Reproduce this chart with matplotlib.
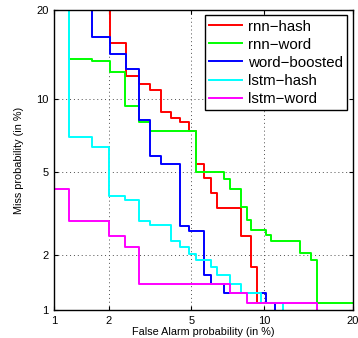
import math
import numpy as np
import matplotlib
matplotlib.use("Agg")
import matplotlib.pyplot as plt

plt.rcParams['font.family'] = ['Liberation Sans', 'DejaVu Sans']

# DET operating points, false alarm (%) / miss (%), drawn as steps
rnn_hash_fa = [2.03, 2.46, 2.86, 3.23, 3.63, 4.06, 4.44, 4.87, 5.27, 5.67, 6.10, 6.49, 8.14, 8.89, 9.37, 9.9]
rnn_hash_miss = [30, 15.72, 12.12, 11.34, 10.76, 8.92, 8.45, 8.11, 7.50, 5.42, 4.71, 4.05, 3.43, 2.50, 1.72, 1.10]

rnn_word_fa = [1.22, 1.62, 2.03, 2.43, 2.83, 3.23, 5.27, 6.90, 7.31, 8.14, 8.56, 8.89, 10.14, 10.60, 13.44, 14.63, 15.41, 22]
rnn_word_miss = [30, 13.90, 13.71, 12.50, 9.37, 8.12, 7.52, 5.02, 4.68, 4.21, 3.45, 3.00, 2.67, 2.52, 2.36, 2.04, 1.88, 1.10]

word_boosted_fa = [1.63, 2.03, 2.46, 2.86, 3.23, 3.63, 4.46, 4.87, 5.67, 6.10, 6.90, 10.18, 11.00, 11.00]
word_boosted_miss = [30, 16.45, 14.49, 12.81, 8.30, 5.86, 5.44, 2.81, 2.66, 1.56, 1.40, 1.25, 1.10, 0.9]

lstm_hash_fa = [1.22, 1.63, 2.01, 2.43, 2.83, 3.23, 4.04, 4.45, 4.87, 5.26, 6.10, 6.49, 7.31, 8.12, 9.74, 11.74, 11.74]
lstm_hash_miss = [30, 7.05, 6.41, 3.92, 3.74, 2.98, 2.82, 2.35, 2.19, 2.02, 1.88, 1.72, 1.56, 1.40, 1.25, 1.10, 0.9]

lstm_word_fa = [0.8, 1.22, 2.01, 2.43, 2.83, 7.31, 8.56, 15.41, 15.41]
lstm_word_miss = [4.21, 4.21, 2.97, 2.49, 2.19, 1.40, 1.25, 1.10, 0.9]

tick_vals = [1, 2, 5, 10, 20]
tick_labels = ['1', '2', '5', '10', '20']
names = ['rnn\u2212hash', 'rnn\u2212word', 'word\u2212boosted', 'lstm\u2212hash', 'lstm\u2212word']
colors = ['#ff0000', '#00ff00', '#0000ff', '#00ffff', '#ff00ff']


# normal deviate scale (Acklam's inverse normal)
_a = [-3.969683028665376e+01, 2.209460984245205e+02, -2.759285104469687e+02,
      1.383577518672690e+02, -3.066479806614716e+01, 2.506628277459239e+00]
_b = [-5.447609879822406e+01, 1.615858368580409e+02, -1.556989798598866e+02,
      6.680131188771972e+01, -1.328068155288572e+01]
_c = [-7.784894002430293e-03, -3.223964580411365e-01, -2.400758277161838e+00,
      -2.549671348874223e+00, 4.374664141464968e+00, 2.938163982698783e+00]
_d = [7.784695709041462e-03, 3.224671290700398e-01, 2.445134137142996e+00,
      3.754408661907416e+00]


def _ppf1(p):
    if not np.isfinite(p):
        return np.nan
    plow = 0.02425
    if p < plow:
        q = math.sqrt(-2 * math.log(p))
        return (((((_c[0]*q+_c[1])*q+_c[2])*q+_c[3])*q+_c[4])*q+_c[5]) / \
               ((((_d[0]*q+_d[1])*q+_d[2])*q+_d[3])*q+1)
    if p > 1 - plow:
        q = math.sqrt(-2 * math.log(1 - p))
        return -(((((_c[0]*q+_c[1])*q+_c[2])*q+_c[3])*q+_c[4])*q+_c[5]) / \
                ((((_d[0]*q+_d[1])*q+_d[2])*q+_d[3])*q+1)
    q = p - 0.5
    r = q * q
    return (((((_a[0]*r+_a[1])*r+_a[2])*r+_a[3])*r+_a[4])*r+_a[5])*q / \
           (((((_b[0]*r+_b[1])*r+_b[2])*r+_b[3])*r+_b[4])*r+1)


_ppf = np.vectorize(_ppf1, otypes=[float])
_erf = np.vectorize(math.erf, otypes=[float])


def probit(v):
    v = np.clip(np.asarray(v, dtype=float) / 100.0, 1e-9, 1 - 1e-9)
    return _ppf(v)


def inv_probit(z):
    z = np.asarray(z, dtype=float)
    return 100.0 * 0.5 * (1 + _erf(z / math.sqrt(2)))


fig = plt.figure(figsize=(3.58, 3.38), dpi=100)
ax = fig.add_axes([54 / 358, 28 / 338, 299 / 358, 300 / 338])

ax.set_xscale('function', functions=(probit, inv_probit))
ax.set_yscale('function', functions=(probit, inv_probit))

series = [(rnn_hash_fa, rnn_hash_miss), (rnn_word_fa, rnn_word_miss),
          (word_boosted_fa, word_boosted_miss), (lstm_hash_fa, lstm_hash_miss),
          (lstm_word_fa, lstm_word_miss)]
for (fa, miss), name, col in zip(series, names, colors):
    ax.plot(fa, miss, drawstyle='steps-pre', color=col, lw=1.4, label=name)

ax.set_xlim(1, 20)
ax.set_ylim(1, 20)
ax.set_xticks(tick_vals)
ax.set_xticklabels(tick_labels)
ax.set_yticks(tick_vals)
ax.set_yticklabels(tick_labels)
ax.minorticks_off()
ax.tick_params(direction='in', length=3, top=True, right=True, labelsize=8, pad=4)
ax.grid(True, color='0.3', linestyle=(0, (1, 3)), linewidth=0.7)
for s in ax.spines.values():
    s.set_linewidth(1.0)

ax.set_xlabel('False Alarm probability (in %)', fontsize=7.8, labelpad=1)
ax.set_ylabel('Miss probability (in %)', fontsize=7.8, labelpad=9)

leg = ax.legend(loc='upper right', bbox_to_anchor=(0.98, 0.983), borderaxespad=0,
                fontsize=10.8, fancybox=False, framealpha=1, edgecolor='black',
                handlelength=2.2, handletextpad=0.35, labelspacing=0.27,
                borderpad=0.3)
leg.get_frame().set_linewidth(1.0)

fig.savefig('out.png', dpi=100)
